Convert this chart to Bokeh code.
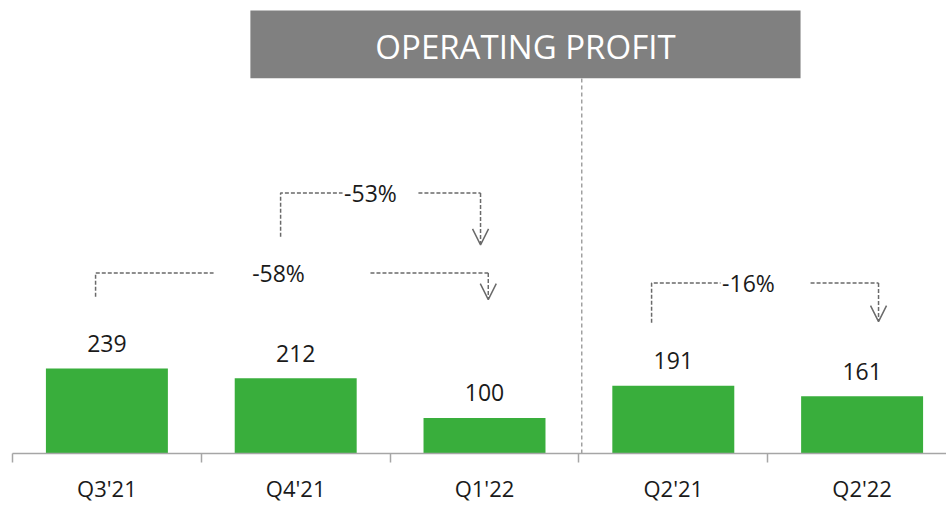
from bokeh.plotting import figure
from bokeh.models import Range1d, FixedTicker, LinearAxis, Arrow, OpenHead, ColumnDataSource
from bokeh.core.properties import value
from bokeh.embed import file_html
from bokeh.resources import INLINE

# ---- data ----
categories = ["Q3'21", "Q4'21", "Q1'22", "Q2'21", "Q2'22"]
profit = [239, 212, 100, 191, 161]
change_labels = ["-58%", "-53%", "-16%"]
change_from = [0, 1, 3]
change_to = [2, 2, 4]

# ---- annotation layout (data units) ----
ann = [
    dict(level=508, leg=441, tip=433, lx=-0.06, rx=0.02, tx=0.909, g0=0.565, g1=1.396),
    dict(level=733, leg=610, tip=587, lx=-0.08, rx=-0.021, tx=1.396, g0=1.248, g1=1.650),
    dict(level=480, leg=368, tip=371, lx=-0.115, rx=0.087, tx=3.398, g0=3.25, g1=3.727),
]

FONT = "Open Sans"
GREEN = "#39AE3C"
GRAY_LINE = "#6a6a6a"

xs = list(range(len(categories)))

p = figure(width=946, height=505, output_backend="svg", toolbar_location=None,
           x_range=Range1d(-0.5, 4.447), y_range=Range1d(0, 1275),
           x_axis_location=None, y_axis_location=None,
           min_border_left=12, min_border_right=0, min_border_top=0, min_border_bottom=51)
p.outline_line_color = None
p.xgrid.visible = False
p.ygrid.visible = False

# x axis: labels at centers, tick marks at boundaries (minor ticks)
ax = LinearAxis(ticker=FixedTicker(ticks=xs, minor_ticks=[i - 0.5 for i in range(len(categories) + 1)]))
ax.major_label_overrides = {i: c for i, c in enumerate(categories)}
ax.major_tick_line_color = None
ax.major_tick_out = 0
ax.major_tick_in = 0
ax.minor_tick_out = 9
ax.minor_tick_in = 0
ax.minor_tick_line_color = "#a6a6a6"
ax.minor_tick_line_width = 1.5
ax.axis_line_color = "#a6a6a6"
ax.axis_line_width = 1.5
ax.major_label_standoff = 10
ax.major_label_text_font = FONT
ax.major_label_text_font_size = "22px"
ax.major_label_text_color = "#1a1a1a"
p.add_layout(ax, "below")

# bars
src = ColumnDataSource(dict(x=xs, top=profit, lab=[str(v) for v in profit]))
p.vbar(x="x", top="top", width=0.646, source=src, fill_color=GREEN, line_color=None)
p.text(x="x", y="top", text="lab", source=src, text_align="center", text_baseline="alphabetic",
       y_offset=-25, text_font=value(FONT), text_font_size="23px", text_color="#1a1a1a")

# title box
p.quad(left=[0.76], right=[3.674], bottom=[1056], top=[1247], fill_color="#808080", line_color=None)
p.text(x=[2.217], y=[1146], text=["OPERATING PROFIT"], text_align="center", text_baseline="middle",
       text_font=value(FONT), text_font_size="33px", text_color="white")

# divider
p.segment(x0=[2.515], y0=[0], x1=[2.515], y1=[1056], line_color="#a0a0a0", line_width=1.5, line_dash="4 3")

# change brackets
for lab, i0, i1, a in zip(change_labels, change_from, change_to, ann):
    xl = i0 + a["lx"]
    xr = i1 + a["rx"]
    p.multi_line(xs=[[xl, xl, a["g0"]], [a["g1"], xr]],
                 ys=[[a["leg"], a["level"], a["level"]], [a["level"], a["level"]]],
                 line_color=GRAY_LINE, line_width=1.5, line_dash="4 2")
    p.add_layout(Arrow(x_start=xr, y_start=a["level"], x_end=xr, y_end=a["tip"],
                       line_color=GRAY_LINE, line_width=1.5, line_dash="4 2",
                       end=OpenHead(size=16, line_color=GRAY_LINE, line_width=1.5)))
    p.text(x=[a["tx"]], y=[a["level"]], text=[lab], text_align="center", text_baseline="middle",
           text_font=value(FONT), text_font_size="23px", text_color="#1a1a1a")

open("out.html", "w").write(file_html(p, INLINE))
